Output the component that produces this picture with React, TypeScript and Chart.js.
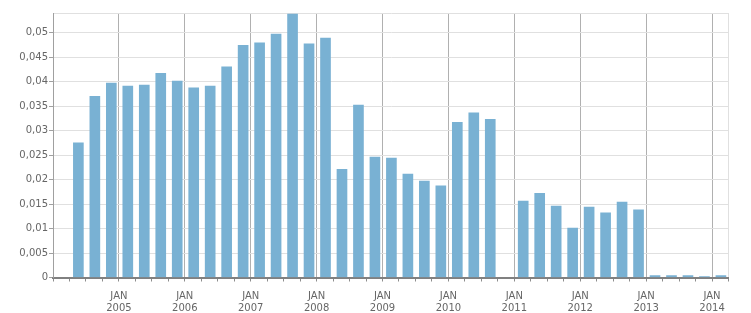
import React, { useEffect, useRef } from "react";
import { Chart, registerables } from "chart.js";

Chart.register(...registerables);

// Quarter categories ("YYYY-Qn") and the series values (null = no bar)
const quarters: string[] = [
  "2004-Q2", "2004-Q3", "2004-Q4",
  "2005-Q1", "2005-Q2", "2005-Q3", "2005-Q4",
  "2006-Q1", "2006-Q2", "2006-Q3", "2006-Q4",
  "2007-Q1", "2007-Q2", "2007-Q3", "2007-Q4",
  "2008-Q1", "2008-Q2", "2008-Q3", "2008-Q4",
  "2009-Q1", "2009-Q2", "2009-Q3", "2009-Q4",
  "2010-Q1", "2010-Q2", "2010-Q3", "2010-Q4",
  "2011-Q1", "2011-Q2", "2011-Q3", "2011-Q4",
  "2012-Q1", "2012-Q2", "2012-Q3", "2012-Q4",
  "2013-Q1", "2013-Q2", "2013-Q3", "2013-Q4",
  "2014-Q1",
];

const values: (number | null)[] = [
  0.0275, 0.0370, 0.0397,
  0.0391, 0.0393, 0.0417, 0.0401,
  0.0387, 0.0391, 0.0430, 0.0474,
  0.0479, 0.0497, 0.0538, 0.0477,
  0.0489, 0.0221, 0.0352, 0.0246,
  0.0244, 0.0211, 0.0197, 0.0187,
  0.0317, 0.0336, 0.0323, null,
  0.0156, 0.0172, 0.0146, 0.0101,
  0.0144, 0.0132, 0.0154, 0.0138,
  0.0004, 0.0004, 0.0004, 0.0002,
  0.0004,
];

// Axis ranges and ticks
const xMin = 2004;
const xMax = 2014.25;
const yMax = 0.054;
const yTickValues: number[] = [0, 0.005, 0.01, 0.015, 0.02, 0.025, 0.03, 0.035, 0.04, 0.045, 0.05];
const monthLabel = "JAN";

const quarterToX = (q: string): number => {
  const [y, qq] = q.split("-Q");
  return Number(y) + (Number(qq) - 1) / 4 + 0.135;
};

const isInt = (v: number) => Math.abs(v - Math.round(v)) < 1e-6;

export default function App() {
  const ref = useRef<HTMLCanvasElement>(null);

  useEffect(() => {
    if (!ref.current) return;
    const points = quarters.map((q, i) => ({ x: quarterToX(q), y: values[i] }));
    const xTicks: number[] = [];
    for (let i = 0; i <= Math.round((xMax - xMin) * 4); i++) xTicks.push(xMin + i / 4);

    const font = { family: "DejaVu Sans", size: 10 };
    const chart = new Chart(ref.current, {
      type: "bar",
      data: {
        datasets: [
          {
            data: points as any,
            backgroundColor: "#79b1d3",
            borderWidth: 0,
            barThickness: 10,
          },
        ],
      },
      options: {
        animation: false,
        responsive: true,
        maintainAspectRatio: false,
        layout: { padding: { top: 13, right: 22.5, left: 0, bottom: 0 } },
        plugins: { legend: { display: false }, tooltip: { enabled: false } },
        scales: {
          x: {
            type: "linear",
            offset: false,
            min: xMin,
            max: xMax,
            afterBuildTicks: (s: any) => {
              s.ticks = xTicks.map((v) => ({ value: v }));
            },
            afterFit: (s: any) => {
              s.height = 35.5;
            },
            border: { color: "#808080", width: 2 },
            grid: {
              offset: false,
              drawOnChartArea: true,
              drawTicks: true,
              tickLength: 4,
              tickColor: "#8c8c8c",
              color: (ctx: any) => {
                const v = ctx.tick?.value;
                if (v === undefined) return "transparent";
                if (Math.abs(v - xMin) < 1e-6) return "transparent";
                if (Math.abs(v - xMax) < 1e-6) return "#e0e0e0";
                return isInt(v) ? "#b0b0b0" : "transparent";
              },
            },
            ticks: {
              autoSkip: false,
              maxRotation: 0,
              minRotation: 0,
              padding: 9,
              color: "#666",
              font: { ...font, lineHeight: 1.2 },
              callback: (v: any) => {
                const n = Number(v);
                if (isInt(n) && n > xMin + 1e-6) return [monthLabel, String(Math.round(n))];
                return "";
              },
            },
          },
          y: {
            type: "linear",
            min: 0,
            max: yMax,
            afterBuildTicks: (s: any) => {
              s.ticks = yTickValues.map((v) => ({ value: v })).concat([{ value: yMax }]);
            },
            afterFit: (s: any) => {
              s.width = 53;
            },
            border: { color: "#a0a0a0", width: 1 },
            grid: {
              color: "#e0e0e0",
              tickLength: 4,
              tickColor: (ctx: any) => (Math.abs((ctx.tick?.value ?? 0) - yMax) < 1e-9 ? "transparent" : "#a0a0a0"),
            },
            ticks: {
              padding: 1,
              color: "#666",
              font,
              callback: (v: any) => {
                const n = Number(v);
                if (Math.abs(n - yMax) < 1e-9) return "";
                return String(Number(n.toFixed(4))).replace(".", ",");
              },
            },
          },
        },
      },
    });
    return () => chart.destroy();
  }, []);

  return (
    <div style={{ position: "absolute", left: 0, top: 0, width: 751, height: 313 }}>
      <canvas ref={ref} />
    </div>
  );
}
